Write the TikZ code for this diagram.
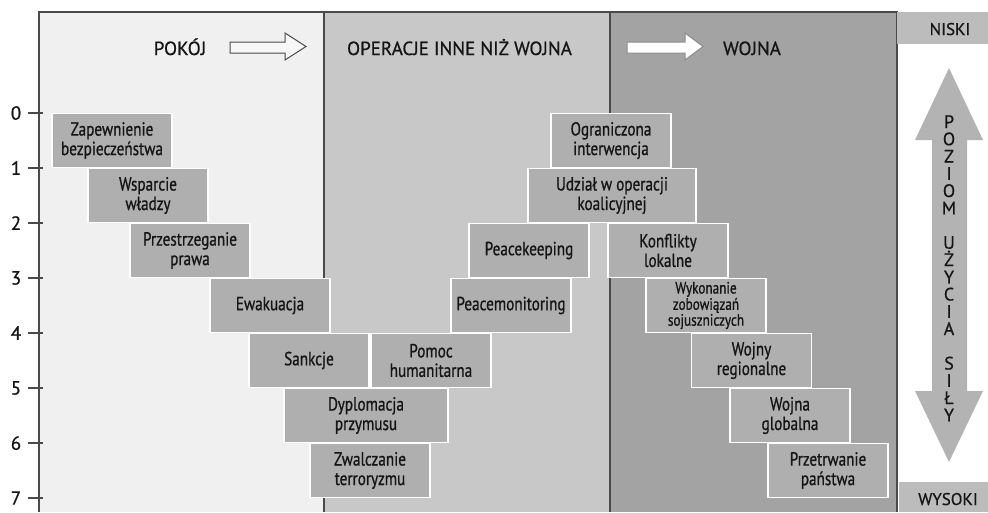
\documentclass[tikz,border=0pt]{standalone}
\usepackage{fontspec}
\setmainfont[FakeBold=0.7]{PT Sans}
\newfontfamily\condf[FakeStretch=0.8,FakeBold=0.8]{PT Sans}
\definecolor{peacebg}{HTML}{F0F0F0}
\definecolor{ootwbg}{HTML}{C8C8C8}
\definecolor{warbg}{HTML}{A3A3A3}
\definecolor{boxc}{HTML}{AFAFAF}
\definecolor{framec}{HTML}{4A4A4A}
\definecolor{txt}{HTML}{151515}
\definecolor{sidebox}{HTML}{BCBCBC}
\definecolor{arrowc}{HTML}{B3B3B3}
\begin{document}
\begin{tikzpicture}[x=1pt,y=-1pt,
  stepbox/.style={draw=white, line width=1.6pt, fill=boxc, inner sep=0pt,
    minimum height=54pt, minimum width=120pt, align=center, text=txt,
    font=\condf\fontsize{19}{19.5}\selectfont},
  headtxt/.style={anchor=base, text=txt, font=\fontsize{19}{22}\selectfont},
  digit/.style={text=txt, font=\fontsize{19}{22}\selectfont},
  vlet/.style={text=txt, font=\fontsize{18}{20}\selectfont, inner sep=0pt,
    text height=12pt, text depth=0pt},
  sidetxt/.style={anchor=base, text=txt, font=\fontsize{17}{19}\selectfont},
  frameline/.style={draw=framec, line width=1.6pt}]
\useasboundingbox (0,0) rectangle (988,512);
\fill[white] (0,0) rectangle (988,512);
% zones
\fill[peacebg] (39,12) rectangle (324,512);
\fill[ootwbg] (324,12) rectangle (610,512);
\fill[warbg] (610,12) rectangle (897,512);
\draw[frameline] (39,512) -- (39,12) -- (897,12) -- (897,512);
\draw[frameline] (324,12) -- (324,512);
\draw[frameline] (610,12) -- (610,512);
% side boxes
\fill[sidebox] (897,12) rectangle (988,44);
\fill[sidebox] (899,482) rectangle (988,512);
\node[sidetxt] (niski) at (950,35) {NISKI};
\node[sidetxt] (wysoki) at (948,505) {WYSOKI};
% header
\node[headtxt] (pokoj) at (180,55) {POKÓJ};
\node[headtxt] (ootw) at (459.5,55) {OPERACJE INNE NIŻ WOJNA};
\node[headtxt] (wojna) at (752,55) {WOJNA};
\draw[draw=framec, fill=white!97!black, line width=1pt]
  (230,42) -- (285,42) -- (285,33) -- (306,46.5) -- (285,60) -- (285,53) -- (230,53) -- cycle;
\draw[draw=black!45, fill=white, line width=1pt]
  (627,42) -- (685,42) -- (685,33) -- (703,46.5) -- (685,60) -- (685,53) -- (627,53) -- cycle;
% axis ticks and labels
\foreach \i in {0,...,7} {
  \draw[draw=framec, line width=1.4pt] (28,113+55*\i) -- (43,113+55*\i);
  \node[digit] (d\i) at (16,113+55*\i) {\i};
}
% boxes
\node[stepbox] (zap) at (112,140.5) {Zapewnienie\\bezpieczeństwa};
\node[stepbox] (ogr) at (611,140.5) {Ograniczona\\interwencja};
\node[stepbox] (wsp) at (148,195.5) {Wsparcie\\władzy};
\node[stepbox, minimum width=168pt] (udz) at (612,195.5) {Udział w operacji\\koalicyjnej};
\node[stepbox] (prz) at (190,250.5) {Przestrzeganie\\prawa};
\node[stepbox] (pk) at (529,250.5) {Peacekeeping};
\node[stepbox] (konf) at (668,250.5) {Konflikty\\lokalne};
\node[stepbox] (ewak) at (270,305.5) {Ewakuacja};
\node[stepbox] (pm) at (511,305.5) {Peacemonitoring};
\node[stepbox, font=\condf\fontsize{16.5}{13.5}\selectfont] (wyk) at (706,305.5) {Wykonanie\\zobowiązań\\sojuszniczych};
\node[stepbox] (sank) at (309,360.5) {Sankcje};
\node[stepbox] (pom) at (431,360.5) {Pomoc\\humanitarna};
\node[stepbox] (wreg) at (751.5,360.5) {Wojny\\regionalne};
\node[stepbox, minimum width=164pt] (dypl) at (366,415.5) {Dyplomacja\\przymusu};
\node[stepbox] (wglob) at (790,415.5) {Wojna\\globalna};
\node[stepbox] (zwal) at (370,470.5) {Zwalczanie\\terroryzmu};
\node[stepbox] (przetr) at (828,470.5) {Przetrwanie\\państwa};
% vertical double arrow
\fill[arrowc] (949,68) -- (983,140) -- (967,140) -- (967,391) -- (983,391) -- (949,462)
  -- (915,391) -- (932,391) -- (932,140) -- (915,140) -- cycle;
\foreach \l/\i in {P/0,O/1,Z/2,I/3,O/4,M/5,U/7,Ż/8,Y/9,C/10,I/11,A/12,S/14,I/15,Ł/16,Y/17} {
  \node[vlet] (v\i) at (949,122+17.25*\i) {\l};
}
\end{tikzpicture}
\end{document}
